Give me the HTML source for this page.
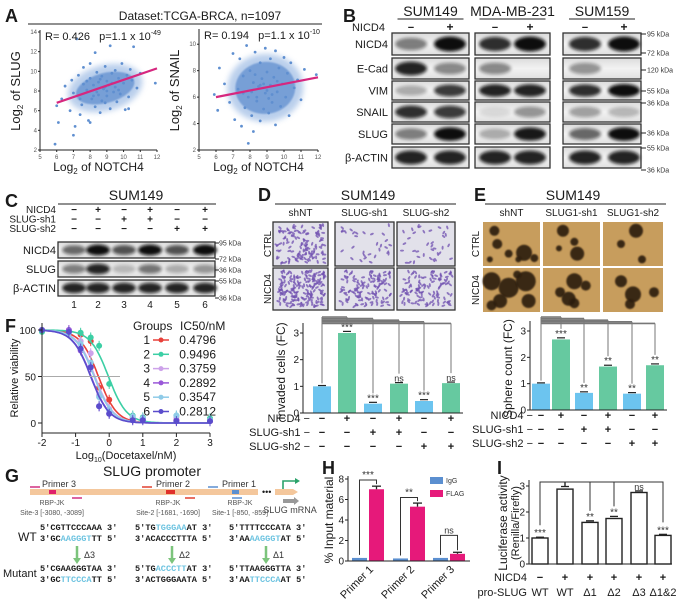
<!DOCTYPE html>
<html><head><meta charset="utf-8"><style>
html,body{margin:0;padding:0;background:#fff;}
svg{display:block;font-family:"Liberation Sans",sans-serif;}
</style></head><body>
<svg id="fig" width="679" height="604" viewBox="0 0 679 604">
<defs>
<filter id="blur1" x="-30%" y="-80%" width="160%" height="260%"><feGaussianBlur stdDeviation="1.6"/></filter>
<filter id="blur2" x="-50%" y="-50%" width="200%" height="200%"><feGaussianBlur stdDeviation="0.8"/></filter>
<filter id="blur3" x="-50%" y="-50%" width="200%" height="200%"><feGaussianBlur stdDeviation="3"/></filter>
<linearGradient id="blotbg" x1="0" y1="0" x2="0" y2="1"><stop offset="0" stop-color="#dcdcdc"/><stop offset="0.5" stop-color="#f2f2f2"/><stop offset="1" stop-color="#e0e0e0"/></linearGradient>
</defs>
</svg>
<script>
const NS='http://www.w3.org/2000/svg';
const svg=document.getElementById('fig');
function mk(tag,attrs,name,parent){
  const el=document.createElementNS(NS,tag);
  for(const k in attrs) el.setAttribute(k,attrs[k]);
  
  
  (parent||svg).appendChild(el);
  return el;
}
function txt(x,y,s,name,o){
  o=o||{};
  const el=mk('text',{x:x,y:y,'font-size':o.fs||10,'text-anchor':o.a||'start',fill:o.c||'#1a1a1a','font-weight':o.w||'normal','font-family':o.f||'"Liberation Sans", sans-serif'},name,o.p);
  if(o.rot) el.setAttribute('transform','rotate('+o.rot+' '+x+' '+y+')');
  if(o.html) el.innerHTML=s; else el.textContent=s;
  return el;
}
function ln(x1,y1,x2,y2,name,c,w){return mk('line',{x1:x1,y1:y1,x2:x2,y2:y2,stroke:c||'#222','stroke-width':w||1},name);}
function rc(x,y,w,h,name,fill,stroke,sw,parent){return mk('rect',{x:x,y:y,width:w,height:h,fill:fill||'none',stroke:stroke||'none','stroke-width':sw||1},name,parent);}

/* ================= Panel A: scatter ================= */
const slugPts=[[6.0,6.5],[6.3,7.2],[6.8,6.0],[7.0,7.8],[7.1,4.4],[7.0,3.5],[5.9,2.6],[7.3,9.6],[7.5,6.6],[7.6,10.4],[7.8,8.1],[7.9,5.0],[8.0,9.3],[8.1,7.2],[8.2,8.6],[8.3,11.9],[8.3,6.4],[8.4,9.9],[8.5,7.6],[8.5,8.9],[8.6,5.8],[8.7,9.5],[8.7,7.0],[8.8,8.2],[8.9,10.5],[8.9,6.8],[9.0,9.0],[9.0,7.5],[9.1,8.6],[9.2,12.6],[9.2,6.2],[9.3,9.8],[9.4,7.9],[9.5,10.1],[9.5,8.4],[9.6,6.9],[9.7,9.3],[9.8,7.7],[9.9,10.8],[10.0,8.8],[10.1,6.1],[10.2,9.6],[10.3,7.4],[10.5,9.1],[10.6,12.5],[10.8,8.3],[11.0,9.8],[11.9,8.8],[7.2,13.3],[8.0,4.8],[7.6,8.7],[8.4,7.9],[9.0,8.0],[8.6,9.2],[9.3,8.8],[8.2,7.5],[7.8,9.0],[9.7,8.1],[8.9,8.4],[7.4,7.2],[6.5,8.5],[10.4,10.2],[6.9,9.1],[8.0,10.8],[6.1,4.8],[7.4,5.6],[10.3,6.2]];
const snailPts=[[5.9,6.2],[6.1,5.0],[6.2,8.2],[6.5,7.0],[6.8,5.6],[7.0,9.3],[7.1,4.3],[7.3,6.6],[7.4,8.9],[7.5,3.8],[7.6,7.6],[7.7,5.2],[7.8,9.9],[7.9,6.0],[7.9,2.5],[8.0,8.0],[8.1,4.6],[8.2,7.1],[8.2,3.4],[8.3,9.4],[8.4,5.7],[8.5,6.8],[8.6,8.6],[8.6,4.2],[8.7,7.4],[8.8,5.1],[8.9,9.7],[8.9,6.3],[9.0,7.9],[9.1,4.8],[9.2,6.9],[9.2,8.9],[9.3,5.6],[9.4,7.5],[9.5,9.5],[9.5,3.9],[9.6,6.4],[9.7,8.2],[9.8,5.3],[9.9,7.0],[10.0,9.0],[10.1,6.0],[10.2,7.8],[10.3,4.6],[10.4,8.6],[10.6,6.7],[10.8,7.3],[11.0,5.8],[11.2,8.1],[11.9,7.7],[8.4,6.0],[8.8,7.0],[9.0,6.5],[9.3,6.2],[8.1,6.4],[8.6,6.9],[9.6,7.2],[8.3,7.7],[9.1,5.9],[7.6,6.3]];
const slugFit=[[6,6.8],[12,10.3]];
const snailFit=[[6,6.0],[12,7.5]];
const xTicksA=[5,6,7,8,9,10,11,12];
const yTicksSlug=[2,4,6,8,10,12,14];
const yTicksSnail=[2,4,6,8,10];

txt(5,22,'A','panel-label-a',{fs:18,w:'bold'});
txt(200,20,'Dataset:TCGA-BRCA,  n=1097','dataset-title',{fs:12,a:'middle'});
ln(28,24,322,24,'dataset-title-rule');

function scatter(o){
  const g=mk('g',{},o.name);
  const sx=v=>o.x0+(v-5)*(o.x1-o.x0)/7;
  const sy=v=>o.yb-(v-2)*(o.yb-o.yt)/(o.ymax-2);
  const cx=sx(o.cx), cy=sy(o.cy);
  mk('ellipse',{cx:cx,cy:cy,rx:o.rx+8,ry:o.ry+8,fill:'#9dbbe4',opacity:0.7,transform:'rotate('+o.rot+' '+cx+' '+cy+')',filter:'url(#blur3)'},'point-cloud-halo',g);
  mk('ellipse',{cx:cx,cy:cy,rx:o.rx,ry:o.ry,fill:'#6f9ad4',opacity:0.9,transform:'rotate('+o.rot+' '+cx+' '+cy+')',filter:'url(#blur2)'},'point-cloud',g);
  o.pts.forEach(p=>{
    mk('circle',{cx:sx(p[0]),cy:sy(p[1]),r:1.4,fill:'#5f8fd0'},'scatter-point',g);
  });
  mk('line',{x1:sx(o.fit[0][0]),y1:sy(o.fit[0][1]),x2:sx(o.fit[1][0]),y2:sy(o.fit[1][1]),stroke:'#d6277f','stroke-width':2.2},'regression-line',g);
  ln(o.x0,o.yt-2,o.x0,o.yb,'y-axis');
  ln(o.x0,o.yb,o.x1,o.yb,'x-axis');
  xTicksA.forEach(v=>{ln(sx(v),o.yb,sx(v),o.yb+2,'x-tick');txt(sx(v),o.yb+9,String(v),'x-tick-label',{fs:6,a:'middle',c:'#555'});});
  o.yt_.forEach(v=>{ln(o.x0-2,sy(v),o.x0,sy(v),'y-tick');txt(o.x0-3,sy(v)+2,String(v),'y-tick-label',{fs:6,a:'end',c:'#555'});});
  txt(o.x0+5,o.yt+8,o.stat,'correlation-stats',{fs:11,html:true});
  txt(o.x0-20,(o.yt+o.yb)/2,'Log<tspan font-size="8" dy="3">2</tspan><tspan dy="-3"> of '+o.ylab+'</tspan>','y-axis-title',{fs:13,a:'middle',rot:-90,html:true});
  txt((o.x0+o.x1)/2,171,'Log<tspan font-size="8" dy="3">2</tspan><tspan dy="-3"> of NOTCH4</tspan>','x-axis-title',{fs:12,a:'middle',html:true});
}
scatter({name:'scatter-slug',x0:40,x1:157,yt:32,yb:150,ymax:14,pts:slugPts,fit:slugFit,cx:8.9,cy:8.3,rx:30,ry:15,rot:-15,yt_:yTicksSlug,ylab:'SLUG',
  stat:'R= 0.426 &#160;&#160;p=1.1 x 10<tspan font-size="7" dy="-5">-49</tspan>'});
scatter({name:'scatter-snail',x0:199,x1:318,yt:31,yb:150,ymax:11,pts:snailPts,fit:snailFit,cx:8.9,cy:6.7,rx:30,ry:26,rot:-5,yt_:yTicksSnail,ylab:'SNAIL',
  stat:'R= 0.194 &#160;&#160;p=1.1 x 10<tspan font-size="7" dy="-5">-10</tspan>'});

/* ================= Western blot helper ================= */
function blotRow(x,y,w,h,lanes,ints,name,bw){
  const g=mk('g',{},name);
  mk('rect',{x:x,y:y,width:w,height:h,fill:'url(#blotbg)'},'blot-background',g);
  lanes.forEach((lx,i)=>{
    if(ints[i]>0) mk('ellipse',{cx:lx,cy:y+h/2,rx:bw/2,ry:h*0.22+ints[i]*h*0.12,fill:'#0a0a0a',opacity:ints[i],filter:'url(#blur1)'},'blot-band',g);
  });
  mk('rect',{x:x,y:y,width:w,height:h,fill:'none',stroke:'#333','stroke-width':1.3},'blot-border',g);
}

/* ================= Panel B ================= */
txt(343,22,'B','panel-label-b',{fs:18,w:'bold'});
const bGroups=['SUM149','MDA-MB-231','SUM159'];
const bBoxes=[[392,469],[475,550],[563,641]];
const bLanes=[[411,450],[495,530],[585,624]];
const bRows=['NICD4','E-Cad','VIM','SNAIL','SLUG','β-ACTIN'];
const bRowY=[[33,55],[58,79],[81,100],[102,122],[124,144],[147,168]];
const bInt=[
 [[0.5,1],[0.85,1],[0.85,1]],
 [[0.9,0.45],[0.45,0],[0.4,0]],
 [[0.3,0.8],[0.9,0.9],[0.85,1]],
 [[0.85,0.8],[0.1,0.4],[0.35,0.25]],
 [[0.5,1],[0.3,0.95],[0.6,1]],
 [[0.9,0.9],[0.9,0.9],[0.9,0.9]]];
bGroups.forEach((n,i)=>{
  const c=(bBoxes[i][0]+bBoxes[i][1])/2;
  txt(c,16,n,'cell-line-header',{fs:14,a:'middle'});
  ln(c-33,19,c+33,19,'cell-line-underline');
  txt(bLanes[i][0],31,'−','nicd4-minus',{fs:11,a:'middle',w:'bold'});
  txt(bLanes[i][1],31,'+','nicd4-plus',{fs:12,a:'middle',w:'bold'});
});
txt(385,31,'NICD4','nicd4-row-label',{fs:11,a:'end'});
bRows.forEach((r,ri)=>{
  const [y0,y1]=bRowY[ri];
  txt(388,(y0+y1)/2+4,r,'blot-row-label',{fs:11,a:'end'});
  bBoxes.forEach((b,gi)=>blotRow(b[0],y0,b[1]-b[0],y1-y0,bLanes[gi],bInt[ri][gi],'blot-'+r.toLowerCase(),32));
});
const bKda=[['95 kDa',34],['72 kDa',53],['120 kDa',70],['55 kDa',91],['36 kDa',103],['36 kDa',133],['55 kDa',148],['36 kDa',170]];
bKda.forEach(k=>{ln(641,k[1],646,k[1],'kda-tick');txt(647,k[1]+2.5,k[0],'kda-label',{fs:7,c:'#333'});});

/* ================= Panel C ================= */
txt(5,207,'C','panel-label-c',{fs:18,w:'bold'});
txt(136,200,'SUM149','c-title',{fs:14,a:'middle'});
ln(58,204,216,204,'c-title-rule');
const cLanes=[74,98,124,150,177,205];
const cCond=[['NICD4',['−','+','−','+','−','+']],['SLUG-sh1',['−','−','+','+','−','−']],['SLUG-sh2',['−','−','−','−','+','+']]];
cCond.forEach((r,i)=>{
  const y=213+i*9.5;
  txt(56,y,r[0],'c-condition-label',{fs:10,a:'end'});
  r[1].forEach((s,j)=>txt(cLanes[j],y,s,'c-sign',{fs:10,a:'middle',w:'bold'}));
});
const cRows=[['NICD4',242,258,[0.6,1,0.7,1,0.7,1]],['SLUG',261,277,[0.5,0.9,0.25,0.55,0.3,0.4]],['β-ACTIN',280,296,[0.9,0.9,0.9,0.9,0.9,0.9]]];
cRows.forEach(r=>{
  txt(56,(r[1]+r[2])/2+4,r[0],'c-blot-label',{fs:11,a:'end'});
  blotRow(58,r[1],157,r[2]-r[1],cLanes,r[3],'c-blot-'+r[0].toLowerCase(),24);
});
[['95 kDa',243],['72 kDa',259],['36 kDa',270],['55 kDa',281],['36 kDa',298]].forEach(k=>{ln(215,k[1],219,k[1],'kda-tick');txt(219,k[1]+2.5,k[0],'kda-label',{fs:7,c:'#333'});});
cLanes.forEach((x,i)=>txt(x,308,String(i+1),'lane-number',{fs:10,a:'middle'}));

/* ================= Panel F ================= */
const fDoses=[-2,-1.2,-0.85,-0.55,-0.3,0,0.7,1,2,3];
const fIC50=[0.4796,0.9496,0.3759,0.2892,0.3547,0.2812];
const fGroups=['1','2','3','4','5','6'];
const fViab=[
 [100,98,95,88,38,25,5,5,3,2],
 [98,99,97,92,83,42,8,6,8,5],
 [100,100,88,75,30,15,6,5,6,3],
 [100,100,78,60,18,10,4,4,3,2],
 [100,97,85,65,28,14,7,5,8,3],
 [100,98,80,60,18,10,3,3,2,2]];
const fXTicks=[-2,-1,0,1,2,3];
const fYTicks=[0,50,100];
const fColors=['#e8403a','#3ccfa5','#cda2ea','#9a58d8','#8fcbe8','#5a4ccc'];
(function(){
  const g=mk('g',{},'viability-chart');
  const sx=v=>42+(v+2)*(210-42)/5;
  const sy=v=>423-v*(423-330)/100;
  txt(5,332,'F','panel-label-f',{fs:18,w:'bold'});
  ln(42,323,42,433,'f-y-axis');
  ln(42,433,210,433,'f-x-axis');
  fYTicks.forEach(v=>{ln(38,sy(v),42,sy(v),'f-y-tick');txt(36,sy(v)+4,String(v),'f-y-tick-label',{fs:10,a:'end'});});
  fXTicks.forEach(v=>{ln(sx(v),433,sx(v),437,'f-x-tick');txt(sx(v),446,String(v),'f-x-tick-label',{fs:10,a:'middle'});});
  ln(42,sy(50),120,sy(50),'half-max-line','#aaa',1);
  txt(18,378,'Relative viability','f-y-axis-title',{fs:11,a:'middle',rot:-90});
  txt(126,459,'Log<tspan font-size="7" dy="3">10</tspan><tspan dy="-3">(Docetaxel/nM)</tspan>','f-x-axis-title',{fs:11,a:'middle',html:true});
  fIC50.forEach((ic,gi)=>{
    let d='';
    for(let k=0;k<=100;k++){const x=-2+k*5/100;const y=100/(1+Math.pow(10,(x-Math.log10(ic))*1.6));d+=(k?'L':'M')+sx(x).toFixed(1)+' '+sy(y).toFixed(1);}
    mk('path',{d:d,fill:'none',stroke:fColors[gi],'stroke-width':1.6},'fit-curve-'+fGroups[gi],g);
    fViab[gi].forEach((v,j)=>{
      mk('line',{x1:sx(fDoses[j]),y1:sy(v)-5,x2:sx(fDoses[j]),y2:sy(v)+5,stroke:fColors[gi],'stroke-width':1},'error-bar',g);
      mk('circle',{cx:sx(fDoses[j]),cy:sy(v),r:3,fill:fColors[gi]},'data-point-'+fGroups[gi],g);
    });
  });
  txt(133,330,'Groups','legend-title-groups',{fs:12});
  txt(180,330,'IC50/nM','legend-title-ic50',{fs:12});
  fGroups.forEach((n,i)=>{
    const y=340+i*14.3;
    txt(150,y+4,n,'legend-group-number',{fs:12,a:'end'});
    mk('line',{x1:153,y1:y,x2:169,y2:y,stroke:fColors[i],'stroke-width':1.5},'legend-line',g);
    mk('circle',{cx:161,cy:y,r:2.5,fill:fColors[i]},'legend-marker',g);
    txt(216,y+4,fIC50[i].toFixed(4),'legend-ic50-value',{fs:12,a:'end'});
  });
})();

/* ================= Panels D & E images ================= */
function hashv(i){const s=Math.sin(i*12.9898+78.233)*43758.5453;return s-Math.floor(s);}
function invasionImg(x,y,w,h,n,name,seed){
  const g=mk('g',{},name);
  rc(x,y,w,h,'invasion-image-bg','#e2e1ea',null,1,g);
  for(let i=0;i<n;i++){
    const px=x+3+hashv(seed+i)*(w-6), py=y+3+hashv(seed+i+500)*(h-6);
    mk('ellipse',{cx:px,cy:py,rx:2,ry:1,fill:'#7050b0',opacity:0.75,transform:'rotate('+(hashv(seed+i+900)*180).toFixed(0)+' '+px.toFixed(1)+' '+py.toFixed(1)+')'},'invaded-cell',g);
  }
  rc(x,y,w,h,'image-border','none','#333',1.3,g);
}
function sphereImg(x,y,w,h,sph,name){
  const g=mk('g',{},name);
  rc(x,y,w,h,'sphere-image-bg','#c79d5d',null,1,g);
  sph.forEach(s=>mk('circle',{cx:x+s[0]*w,cy:y+s[1]*h,r:s[2],fill:'#2a1a0c',opacity:0.9,filter:'url(#blur2)'},'sphere',g));
}
txt(258,201,'D','panel-label-d',{fs:18,w:'bold'});
txt(368,200,'SUM149','d-title',{fs:14,a:'middle'});
ln(275,204,456,204,'d-title-rule');
const dCols=[[273,328,'shNT'],[335,394,'SLUG-sh1'],[397,455,'SLUG-sh2']];
const dCounts=[[120,30,35],[170,120,110]];
dCols.forEach((c,i)=>{
  txt((c[0]+c[1])/2,216,c[2],'d-column-label',{fs:10,a:'middle'});
  invasionImg(c[0],222,c[1]-c[0],44,dCounts[0][i],'invasion-ctrl-'+c[2],i*37);
  invasionImg(c[0],268,c[1]-c[0],42,dCounts[1][i],'invasion-nicd4-'+c[2],i*37+300);
});
txt(271,244,'CTRL','d-row-label-ctrl',{fs:10,a:'middle',rot:-90});
txt(271,289,'NICD4','d-row-label-nicd4',{fs:10,a:'middle',rot:-90});

txt(474,201,'E','panel-label-e',{fs:18,w:'bold'});
txt(573,200,'SUM149','e-title',{fs:14,a:'middle'});
ln(485,204,666,204,'e-title-rule');
const eCols=[[483,540,'shNT'],[543,600,'SLUG1-sh1'],[603,663,'SLUG1-sh2']];
const eSph=[
 [[[0.2,0.2,5],[0.25,0.5,5],[0.45,0.72,4],[0.72,0.7,8],[0.62,0.85,3],[0.9,0.82,4],[0.12,0.85,3]],[[0.35,0.2,6],[0.55,0.45,4],[0.6,0.72,7],[0.28,0.6,3]],[[0.55,0.2,7],[0.3,0.5,4],[0.65,0.85,4]]],
 [[[0.15,0.3,9],[0.45,0.45,10],[0.75,0.3,10],[0.8,0.75,7],[0.3,0.75,7],[0.15,0.85,5],[0.6,0.15,4]],[[0.55,0.3,8],[0.3,0.55,5],[0.45,0.7,7],[0.75,0.4,5],[0.55,0.8,5]],[[0.3,0.3,6],[0.5,0.6,8],[0.85,0.55,5],[0.45,0.82,5]]]];
eCols.forEach((c,i)=>{
  txt((c[0]+c[1])/2,216,c[2],'e-column-label',{fs:10,a:'middle'});
  sphereImg(c[0],222,c[1]-c[0],44,eSph[0][i],'sphere-ctrl-'+c[2]);
  sphereImg(c[0],268,c[1]-c[0],44,eSph[1][i],'sphere-nicd4-'+c[2]);
});
txt(479,244,'CTRL','e-row-label-ctrl',{fs:10,a:'middle',rot:-90});
txt(479,290,'NICD4','e-row-label-nicd4',{fs:10,a:'middle',rot:-90});

/* ================= Panels D & E bar charts ================= */
const dVals=[1.0,3.0,0.35,1.1,0.45,1.12];
const dErr=[0.03,0.06,0.05,0.04,0.05,0.04];
const dStars=['','***','***','ns','***','ns'];
const eVals=[1.0,2.68,0.65,1.65,0.62,1.7];
const eErr=[0.03,0.06,0.04,0.05,0.04,0.05];
const eStars=['','***','**','**','**','**'];
const bcTicks=[0,1,2,3];
const nicdSigns=['−','+','−','+','−','+'];
const sh1Signs=['−','−','+','+','−','−'];
const sh2Signs=['−','−','−','−','+','+'];
const barColors=['#6cc4ef','#66c9a0','#6cc4ef','#66c9a0','#6cc4ef','#66c9a0'];
function barChart(o){
  const g=mk('g',{},o.name);
  const sy=v=>o.y0-v*(o.y0-o.y3)/3;
  ln(o.ax,o.y0,o.ax,o.y3-10,'y-axis');
  ln(o.ax,o.y0,o.cx[5]+12,o.y0,'x-axis');
  bcTicks.forEach(v=>{ln(o.ax-3,sy(v),o.ax,sy(v),'y-tick');txt(o.ax-4,sy(v)+3.5,String(v),'y-tick-label',{fs:10,a:'end'});});
  txt(o.ax-18,(o.y0+o.y3)/2-2,o.ylab,'y-axis-title',{fs:12,a:'middle',rot:-90});
  [1,2,3,4,5].forEach((k,i)=>{
    const yb=o.ytop+i*1.6;
    mk('line',{x1:o.cx[0],y1:yb,x2:o.cx[k],y2:yb,stroke:'#777','stroke-width':1.6},'comparison-bracket',g);
    mk('line',{x1:o.cx[k],y1:yb,x2:o.cx[k],y2:sy(o.vals[k]+o.err[k])-9,stroke:'#777','stroke-width':1},'comparison-bracket-drop',g);
  });
  mk('line',{x1:o.cx[0],y1:o.ytop,x2:o.cx[0],y2:sy(o.vals[0])-3,stroke:'#777','stroke-width':1},'comparison-bracket-drop',g);
  o.vals.forEach((v,i)=>{
    mk('rect',{x:o.cx[i]-9,y:sy(v),width:18,height:o.y0-sy(v),fill:barColors[i]},'bar-'+(i+1),g);
    mk('line',{x1:o.cx[i]-4,y1:sy(v+o.err[i]),x2:o.cx[i]+4,y2:sy(v+o.err[i]),stroke:'#222','stroke-width':1.2},'error-cap',g);
    if(o.stars[i]) txt(o.cx[i],sy(v+o.err[i])-1,o.stars[i],'significance-label',{fs:o.stars[i]=='ns'?9:10,a:'middle',c:'#333'});
    txt(o.cx[i],o.y0+9,nicdSigns[i],'nicd4-sign',{fs:11,a:'middle',w:'bold'});
    txt(o.cx[i],o.y0+23,sh1Signs[i],'sh1-sign',{fs:11,a:'middle',w:'bold'});
    txt(o.cx[i],o.y0+37,sh2Signs[i],'sh2-sign',{fs:11,a:'middle',w:'bold'});
  });
  txt(o.lx,o.y0+9,'NICD4 −','nicd4-row-label',{fs:11,a:'end'});
  txt(o.lx,o.y0+23,'SLUG-sh1 −','sh1-row-label',{fs:11,a:'end'});
  txt(o.lx,o.y0+37,'SLUG-sh2 −','sh2-row-label',{fs:11,a:'end'});
}
barChart({name:'invasion-bar-chart',ax:303,y0:413,y3:333,cx:[322,347,373,399,424,451],vals:dVals,err:dErr,stars:dStars,ylab:'Invaded cells (FC)',ytop:317,lx:310});
barChart({name:'sphere-bar-chart',ax:530,y0:410,y3:331,cx:[541,561,584,608,632,655],vals:eVals,err:eErr,stars:eStars,ylab:'Sphere count (FC)',ytop:317,lx:533});

/* ================= Panel G ================= */
txt(5,482,'G','panel-label-g',{fs:18,w:'bold'});
txt(152,476,'SLUG promoter','g-title',{fs:14,a:'middle'});
rc(30,489,228,6,'promoter-bar','#f4c79c');
txt(262,495,'•••','promoter-gap',{fs:9});
mk('path',{d:'M275 489 L293 489 L298 492 L293 495 L275 495 Z',fill:'#f4c79c'},'promoter-bar-end');
mk('path',{d:'M283 489 L283 481 L297 481',fill:'none',stroke:'#2aa26a','stroke-width':1.6},'tss-arrow');
mk('path',{d:'M295 478 L300 481 L295 484 Z',fill:'#2aa26a'},'tss-arrowhead');
mk('path',{d:'M283 499 L294 499 L294 497 L299 501 L294 505 L294 503 L283 503 Z',fill:'#999'},'mrna-arrow');
txt(290,513,'SLUG mRNA','mrna-label',{fs:9,a:'middle',c:'#444'});
rc(49,490,7,4,'rbpjk-site-3','#e0206a');
rc(166,490,9,4,'rbpjk-site-2','#e0302a');
rc(232,490,7,4,'rbpjk-site-1','#5b8fd0');
[[30,487,40,'#d03080'],[142,487,152,'#e04030'],[208,487,218,'#5b8fd0']].forEach(p=>{ln(p[0],p[1],p[2],p[1],'primer-forward',p[3],1.5);});
[[72,498,82,'#d03080'],[185,498,195,'#e04030'],[232,498,242,'#5b8fd0']].forEach(p=>{ln(p[0],p[1],p[2],p[1],'primer-reverse',p[3],1.5);});
txt(42,487,'Primer 3','primer-3-label',{fs:9,c:'#333'});
txt(156,487,'Primer 2','primer-2-label',{fs:9,c:'#333'});
txt(222,487,'Primer 1','primer-1-label',{fs:9,c:'#333'});
[[52,'Site-3 [-3080, -3089]'],[168,'Site-2 [-1681, -1690]'],[240,'Site-1 [-850, -859]']].forEach(s=>{
  txt(s[0],505,'RBP-JK','rbpjk-label',{fs:7,a:'middle',c:'#555'});
  txt(s[0],515,s[1],'rbpjk-site-label',{fs:7,a:'middle',c:'#555'});
});
txt(18,541,'WT','wt-label',{fs:12});
txt(3,577,'Mutant','mutant-label',{fs:11});
const seqCols=[
 [40,['5′CGTTCCCAAA 3′','3′GC<tspan fill="#6cc3e0">AAGGGT</tspan>TT 5′','5′CGAAGGGTAA 3′','3′GC<tspan fill="#6cc3e0">TTCCCA</tspan>TT 5′'],'Δ3'],
 [135,['5′TG<tspan fill="#6cc3e0">TGGGAA</tspan>AT 3′','3′ACACCCTTTA 5′','5′TG<tspan fill="#6cc3e0">ACCCTT</tspan>AT 3′','3′ACTGGGAATA 5′'],'Δ2'],
 [229,['5′TTTTCCCATA 3′','3′AA<tspan fill="#6cc3e0">AAGGGT</tspan>AT 5′','5′TTAAGGGTTA 3′','3′AA<tspan fill="#6cc3e0">TTCCCA</tspan>AT 5′'],'Δ1']];
seqCols.forEach(c=>{
  const ys=[530,541,571,582];
  c[1].forEach((s,i)=>txt(c[0],ys[i],s,'sequence-line',{fs:8.6,w:'bold',f:'"Liberation Mono", monospace',html:true}));
  const ax=c[0]+37;
  ln(ax,546,ax,559,'mutation-arrow','#7cc47c',2.5);
  mk('path',{d:'M'+(ax-4)+' 558 L'+(ax+4)+' 558 L'+ax+' 564 Z',fill:'#7cc47c'},'mutation-arrowhead');
  txt(ax+7,558,c[2],'deletion-label',{fs:9,c:'#333'});
});

/* ================= Panel H ================= */
const hPrimers=['Primer 1','Primer 2','Primer 3'];
const hIgG=[0.3,0.25,0.3];
const hFlag=[7.0,5.3,0.7];
const hFlagErr=[0.3,0.35,0.15];
const hStars=['***','**','ns'];
const hTicks=[0,2,4,6,8];
(function(){
  const g=mk('g',{},'chip-bar-chart');
  const sy=v=>561-v*(561-479)/8;
  const gc=[368,409,449];
  txt(322,474,'H','panel-label-h',{fs:18,w:'bold'});
  ln(348,476,348,561,'h-y-axis');
  ln(348,561,470,561,'h-x-axis');
  hTicks.forEach(v=>{ln(345,sy(v),348,sy(v),'h-y-tick');txt(344,sy(v)+3.5,String(v),'h-y-tick-label',{fs:10,a:'end'});});
  txt(333,520,'% Input material','h-y-axis-title',{fs:12,a:'middle',rot:-90});
  hPrimers.forEach((p,i)=>{
    mk('rect',{x:gc[i]-16,y:sy(hIgG[i]),width:15,height:561-sy(hIgG[i]),fill:'#5b8fd0'},'bar-igg-'+(i+1),g);
    mk('rect',{x:gc[i]+1,y:sy(hFlag[i]),width:15,height:561-sy(hFlag[i]),fill:'#e6197a'},'bar-flag-'+(i+1),g);
    mk('line',{x1:gc[i]+4,y1:sy(hFlag[i]+hFlagErr[i]),x2:gc[i]+13,y2:sy(hFlag[i]+hFlagErr[i]),stroke:'#222','stroke-width':1.3},'error-cap',g);
    mk('line',{x1:gc[i]+8.5,y1:sy(hFlag[i]+hFlagErr[i]),x2:gc[i]+8.5,y2:sy(hFlag[i]),stroke:'#222','stroke-width':1.3},'error-bar',g);
    const top=sy(Math.max(hFlag[i],1.6)+0.9);
    mk('path',{d:'M'+(gc[i]-8.5)+' '+(sy(hIgG[i])-3)+' L'+(gc[i]-8.5)+' '+top+' L'+(gc[i]+8.5)+' '+top+' L'+(gc[i]+8.5)+' '+(sy(hFlag[i]+hFlagErr[i])-2),fill:'none',stroke:'#333','stroke-width':1},'significance-bracket',g);
    txt(gc[i],top-2,hStars[i],'significance-label',{fs:i==2?9:10,a:'middle',c:'#333'});
    txt(gc[i]+6,570,p,'primer-axis-label',{fs:11,a:'end',rot:-45});
  });
  rc(430,477,13,7,'legend-igg-swatch','#5b8fd0');
  txt(446,483,'IgG','legend-igg-label',{fs:7,c:'#333'});
  rc(430,490,13,7,'legend-flag-swatch','#e6197a');
  txt(446,496,'FLAG','legend-flag-label',{fs:7,c:'#333'});
})();

/* ================= Panel I ================= */
const iVals=[1.0,2.88,1.6,1.75,2.75,1.1];
const iErr=[0.03,0.1,0.06,0.08,0.06,0.04];
const iStars=['***','','**','**','ns','***'];
const iNicd=['−','+','+','+','+','+'];
const iPro=['WT','WT','Δ1','Δ2','Δ3','Δ1&2'];
const iTicks=[0,1,2,3];
(function(){
  const g=mk('g',{},'luciferase-bar-chart');
  const sy=v=>564-v*(564-486)/3;
  const cx=[540,565,590,614,639,663];
  txt(497,474,'I','panel-label-i',{fs:18,w:'bold'});
  ln(529,480,529,564,'i-y-axis');
  ln(529,564,672,564,'i-x-axis');
  iTicks.forEach(v=>{ln(526,sy(v),529,sy(v),'i-y-tick');txt(525,sy(v)+3.5,String(v),'i-y-tick-label',{fs:10,a:'end'});});
  txt(507,523,'Luciferase activity','i-y-axis-title',{fs:12,a:'middle',rot:-90});
  txt(519,523,'(Renilla/Firefly)','i-y-axis-title-2',{fs:11,a:'middle',rot:-90});
  mk('path',{d:'M540 '+(sy(iVals[0]+iErr[0])-12)+' L540 482 L663 482 L663 '+(sy(iVals[5]+iErr[5])-12),fill:'none',stroke:'#333','stroke-width':1},'comparison-bracket',g);
  mk('line',{x1:565,y1:482,x2:565,y2:sy(iVals[1]+iErr[1]),stroke:'#333','stroke-width':1.5},'comparison-bracket-ref',g);
  [2,3,4].forEach(k=>mk('line',{x1:cx[k],y1:482,x2:cx[k],y2:sy(iVals[k]+iErr[k])-(k==4?9:10),stroke:'#333','stroke-width':1},'comparison-bracket-drop',g));
  iVals.forEach((v,i)=>{
    mk('rect',{x:cx[i]-8,y:sy(v),width:16,height:564-sy(v),fill:'#fff',stroke:'#222','stroke-width':1.4},'bar-'+(i+1),g);
    mk('line',{x1:cx[i]-4,y1:sy(v+iErr[i]),x2:cx[i]+4,y2:sy(v+iErr[i]),stroke:'#222','stroke-width':1.3},'error-cap',g);
    if(iStars[i]) txt(cx[i],sy(v+iErr[i])-1,iStars[i],'significance-label',{fs:iStars[i]=='ns'?9:10,a:'middle',c:'#333'});
    txt(cx[i],581,iNicd[i],'nicd4-sign',{fs:11,a:'middle',w:'bold'});
    txt(cx[i],596,iPro[i],'pro-slug-label',{fs:11,a:'middle'});
  });
  txt(527,581,'NICD4','i-nicd4-row-label',{fs:11,a:'end'});
  txt(527,596,'pro-SLUG','i-pro-slug-row-label',{fs:11,a:'end'});
})();
</script>
</body></html>
